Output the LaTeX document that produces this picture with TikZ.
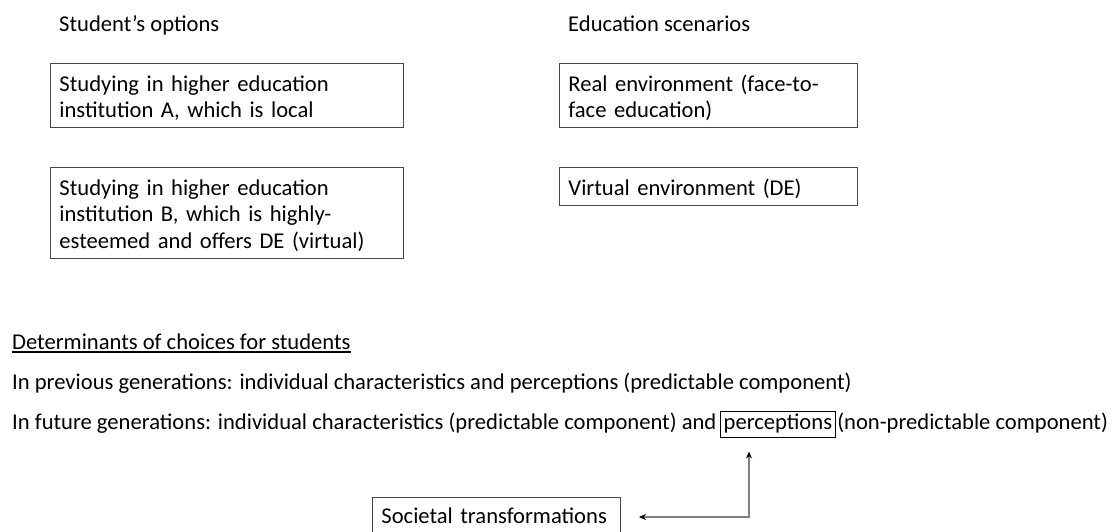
\documentclass[tikz,border=0pt]{standalone}
\usepackage{fontspec}
\setmainfont{Carlito}
\usetikzlibrary{arrows.meta}
\usetikzlibrary{positioning}
\definecolor{boxline}{RGB}{70,70,70}
\definecolor{linkgray}{RGB}{128,128,128}
\newcommand{\topstrut}{\rule{0pt}{28pt}}
\newcommand{\botstrut}{\rule[-9.75pt]{0pt}{0pt}}

\begin{document}
\begin{tikzpicture}[x=1pt, y=-1pt,
    txt/.style={font=\fontsize{22.6}{26.5}\selectfont, inner sep=0pt, anchor=base west},
    optbox/.style={draw=boxline, line width=0.9pt, font=\fontsize{22.6}{26.5}\selectfont, align=left, anchor=north west, inner xsep=9pt, inner ysep=0pt}]

    \useasboundingbox (0,0) rectangle (1115,531);

    % headings
    \node[txt] (optTitle) at (59,31) {Student’s options};
    \node[txt] (scenTitle) at (568,31) {Education scenarios};

    % options and scenarios
    \node[optbox, text width=335pt] (instA) at (50,63) {\topstrut Studying in higher education\\institution A, which is local\botstrut};
    \node[optbox, text width=335pt] (instB) at (50,167) {\topstrut Studying in higher education\\institution B, which is highly-\\esteemed and offers DE (virtual)\botstrut};
    \node[optbox, text width=280pt] (realEnv) at (559,63) {\topstrut Real environment (face-to-\\face education)\botstrut};
    \node[optbox, text width=280pt] (virtEnv) at (559,167) {\topstrut Virtual environment (DE)\botstrut};

    % determinants
    \node[txt] (detHead) at (12,349) {Determinants of choices for students};
    \draw[line width=1.2pt] ([yshift=-3pt]detHead.base west) -- ([yshift=-3pt]detHead.base east);
    \node[txt] (prevGen) at (12,389) {In previous generations: individual characteristics and perceptions (predictable component)};
    \node[txt] (futA) at (12,429) {In future generations: individual characteristics (predictable component) and};
    \node[draw, line width=1pt, font=\fontsize{22.6}{26.5}\selectfont, inner xsep=3.5pt, inner ysep=0pt, text height=18pt, text depth=8pt, base right=3pt of futA] (percep) {perceptions};
    \node[txt, base right=1pt of percep] (futB) {(non-predictable component)};

    \node[optbox, text width=230pt] (society) at (372,497) {\rule{0pt}{26pt}Societal transformations\rule[-14pt]{0pt}{0pt}};

    \coordinate (bend) at (749,517);
    \draw[linkgray, line width=1.3pt, {Stealth[black,length=7pt,width=6pt]}-{Stealth[black,length=7pt,width=6pt]}] ([xshift=18pt]society.east |- bend) -- (bend) -- ([yshift=-14pt]bend |- percep.south);

\end{tikzpicture}
\end{document}
